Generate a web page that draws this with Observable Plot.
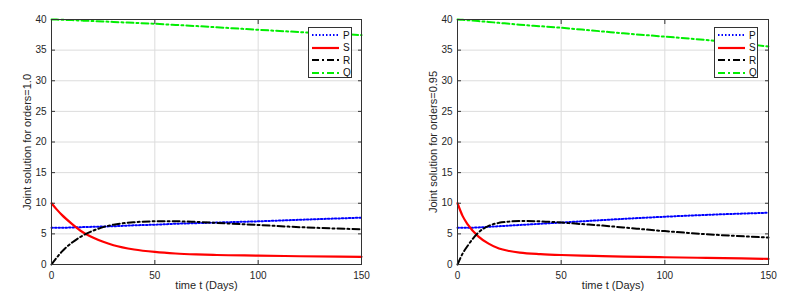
<!DOCTYPE html>
<html>
<head>
<meta charset="utf-8">
<script src="https://cdn.jsdelivr.net/npm/d3@7"></script>
<script src="https://cdn.jsdelivr.net/npm/@observablehq/plot@0.6"></script>
<style>
  html, body { margin: 0; padding: 0; background: #fff; }
  #wrap { position: relative; width: 794px; height: 298px; display: flex; }
  .panel { position: relative; width: 397px; height: 298px; }
  .legend { position: absolute; background: #fff; border: 1px solid #333; box-sizing: border-box;
            font: 10px "Liberation Sans", Arial, sans-serif; color: #111; }
  .legend .row { position: absolute; left: 2px; height: 12px; display: flex; align-items: center; }
  .legend svg { display: block; }
  .legend span { margin-left: 3px; }
</style>
</head>
<body>
<div id="wrap"></div>
<script>
// ---- data ----
const tDays = [0, 2.5, 5, 10, 15, 20, 25, 30, 40, 50, 60, 70, 80, 100, 120, 150];

// orders = 1.0
const P_10 = [6, 6, 6, 6.05, 6.1, 6.15, 6.2, 6.25, 6.4, 6.5, 6.65, 6.75, 6.85, 7.05, 7.3, 7.65];
const S_10 = [10, 9.0, 8.1, 6.6, 5.3, 4.4, 3.7, 3.15, 2.45, 2.05, 1.8, 1.65, 1.55, 1.45, 1.35, 1.25];
const R_10 = [0, 1.1, 2.1, 3.6, 4.7, 5.5, 6.1, 6.5, 6.9, 7.05, 7.05, 6.95, 6.8, 6.45, 6.1, 5.75];
const Q_10 = [40, 39.98, 39.95, 39.9, 39.82, 39.75, 39.68, 39.6, 39.45, 39.3, 39.12, 38.93, 38.73, 38.32, 37.95, 37.45];

// orders = 0.95
const P_095 = [6, 6, 6, 6.05, 6.15, 6.25, 6.35, 6.45, 6.65, 6.85, 7.05, 7.25, 7.45, 7.8, 8.1, 8.45];
const S_095 = [10, 7.9, 6.5, 4.6, 3.4, 2.6, 2.2, 1.95, 1.7, 1.55, 1.45, 1.38, 1.3, 1.18, 1.08, 0.92];
const R_095 = [0, 1.8, 3.1, 5.2, 6.3, 6.8, 7.0, 7.1, 7.05, 6.85, 6.6, 6.35, 6.05, 5.45, 4.95, 4.4];
const Q_095 = [40, 39.95, 39.88, 39.75, 39.6, 39.45, 39.3, 39.15, 38.9, 38.65, 38.35, 38.05, 37.75, 37.2, 36.65, 35.6];

const seriesNames = ["P", "S", "R", "Q"];
const xTicks = [0, 50, 100, 150];
const yTicks = [0, 5, 10, 15, 20, 25, 30, 35, 40];
const xLabel = "time t (Days)";
const yLabels = ["Joint solution for orders=1.0", "Joint solution for orders=0.95"];

// ---- styles ----
const seriesColors = ["#0000ff", "#ff0000", "#000000", "#00ee00"];
const seriesDash = ["1.5,2", null, "7,3,2,3", "7,3,2,3"];
const seriesWidth = [2, 2.2, 2, 2];

const panels = [
  {series: [P_10, S_10, R_10, Q_10], ylabel: yLabels[0], ml: 51, mr: 36, legendLeft: 308},
  {series: [P_095, S_095, R_095, Q_095], ylabel: yLabels[1], ml: 60, mr: 26, legendLeft: 317}
];

const wrap = document.getElementById("wrap");
const axisColor = "#333";

panels.forEach(p => {
  const rows = [];
  seriesNames.forEach((name, i) => {
    tDays.forEach((t, j) => rows.push({t, v: p.series[i][j], name, i}));
  });
  const lines = seriesNames.map((name, i) =>
    Plot.line(rows.filter(r => r.name === name), {
      x: "t", y: "v", stroke: seriesColors[i], strokeWidth: seriesWidth[i],
      strokeDasharray: seriesDash[i] || undefined, curve: "monotone-x"
    })
  );
  const chart = Plot.plot({
    width: 397, height: 298,
    marginLeft: p.ml, marginRight: p.mr, marginTop: 19, marginBottom: 34,
    style: {fontSize: "10px", fontFamily: "'Liberation Sans', Arial, sans-serif", color: "#262626", background: "#fff"},
    x: {domain: [0, 150]},
    y: {domain: [0, 40]},
    marks: [
      Plot.gridX(xTicks, {stroke: "#dcdcdc", strokeOpacity: 1}),
      Plot.gridY(yTicks, {stroke: "#dcdcdc", strokeOpacity: 1}),
      ...lines,
      Plot.frame({stroke: axisColor, strokeWidth: 1}),
      Plot.axisX(xTicks, {anchor: "bottom", tickSize: -4, tickPadding: 11, label: null, stroke: axisColor}),
      Plot.axisX(xTicks, {anchor: "top", tickSize: -4, text: null, label: null, stroke: axisColor}),
      Plot.axisY(yTicks, {anchor: "left", tickSize: -4, tickPadding: 9, label: null, stroke: axisColor}),
      Plot.axisY(yTicks, {anchor: "right", tickSize: -4, text: null, label: null, stroke: axisColor}),
      Plot.text([xLabel], {frameAnchor: "bottom", dy: 24, fontSize: 11, fill: "#262626"}),
      Plot.text([p.ylabel], {frameAnchor: "left", textAnchor: "middle", rotate: -90, dx: -24, fontSize: 11, fill: "#262626"})
    ]
  });
  const panel = document.createElement("div");
  panel.className = "panel";
  panel.appendChild(chart);

  // legend
  const lg = document.createElement("div");
  lg.className = "legend";
  lg.style.left = p.legendLeft + "px";
  lg.style.top = "27px";
  lg.style.width = "44px";
  lg.style.height = "51px";
  seriesNames.forEach((name, i) => {
    const row = document.createElement("div");
    row.className = "row";
    row.style.top = (1 + i * 12.5) + "px";
    row.innerHTML = `<svg width="29" height="10"><line x1="1" x2="28" y1="5" y2="5" stroke="${seriesColors[i]}" stroke-width="${seriesWidth[i]}" ${seriesDash[i] ? `stroke-dasharray="${seriesDash[i]}"` : ""}/></svg><span>${name}</span>`;
    lg.appendChild(row);
  });
  panel.appendChild(lg);
  wrap.appendChild(panel);
});
</script>
</body>
</html>
